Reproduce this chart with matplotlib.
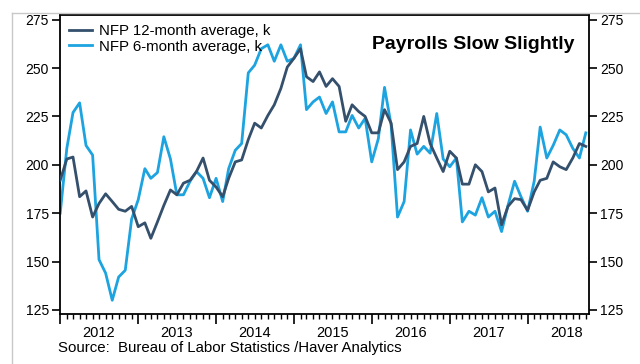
import matplotlib
matplotlib.use("Agg")
import matplotlib.pyplot as plt
import matplotlib.dates as mdates
from matplotlib.lines import Line2D
import pandas as pd

plt.rcParams['font.family'] = ['Liberation Sans', 'DejaVu Sans']

# monthly nonfarm payroll averages, thousands (Jan 2012 - Oct 2018)
months = pd.date_range('2012-01-01', periods=82, freq='MS')

avg_12m = [192, 203, 204, 183.5, 186.5, 173, 180, 185, 181, 177,
           176, 178.5, 168, 170, 162, 170.5, 179, 187, 184.5, 190.5,
           192, 196.5, 203.5, 192, 188.5, 183.5, 193, 201.5, 202.5, 213,
           221.5, 219, 225.5, 231, 239.5, 250.5, 255, 260, 245.5, 243,
           248, 240.5, 244.5, 240.5, 222.5, 231, 227.5, 225, 216.5, 216.5,
           228.5, 221.5, 197.5, 201.5, 209.5, 211, 225, 211, 203.5, 196.5,
           207, 203.5, 190, 190, 200, 196.5, 186, 188, 169, 178.5,
           182.5, 182, 176.5, 186, 192, 193, 201.5, 199, 197.5, 203.5,
           211, 209.5]

avg_6m = [175, 208.5, 227, 232, 210, 205, 151, 144, 130, 142,
          145.5, 172, 182, 198, 193, 196, 214.5, 203, 184.5, 184.5,
          191.5, 196.5, 193, 183, 193, 181, 198, 207.5, 211, 247.5,
          251.5, 260, 262, 253.5, 262, 253.5, 255, 262, 228.5, 232.5,
          235, 226.5, 232.5, 217, 217, 225.5, 219, 224, 201.5, 213.5,
          240, 220.5, 173, 181, 218, 205.5, 209.5, 206, 226.5, 203,
          199, 203.5, 170.5, 176, 174, 183, 173, 176, 165.5, 179,
          191.5, 183.5, 176, 191.5, 219.5, 203.5, 210, 218, 215.5, 208.5,
          203.5, 216.5]

years = [2012, 2013, 2014, 2015, 2016, 2017, 2018]
yticks = [125, 150, 175, 200, 225, 250, 275]

dark = '#34506c'
light = '#1ca3e0'

fig = plt.figure(figsize=(6.4, 3.64), dpi=100)
ax = fig.add_axes([60/640, 1 - 314/364, 529/640, 299/364])

ax.plot(months, avg_12m, color=dark, lw=2.0, label='NFP 12-month average, k', zorder=3)
ax.plot(months, avg_6m, color=light, lw=2.0, label='NFP 6-month average, k', zorder=2)

ax.set_ylim(122.9, 277.4)
ax.set_xlim(pd.Timestamp('2011-12-31'), pd.Timestamp('2018-10-16'))
ax.set_yticks(yticks)

ax.xaxis.set_major_locator(mdates.YearLocator())
ax.xaxis.set_minor_locator(mdates.MonthLocator())
ax.xaxis.set_major_formatter(plt.NullFormatter())

ax.tick_params(axis='y', length=6, width=1.2, direction='out', labelsize=10,
               right=True, labelright=True, pad=2)
ax.tick_params(axis='x', which='major', length=7, width=1.2, direction='out')
ax.tick_params(axis='x', which='minor', length=3.5, width=1.0, direction='out')
for s in ax.spines.values():
    s.set_linewidth(1.3)

# year names sit in the middle of each year
for y in years:
    ax.text(pd.Timestamp(f'{y}-07-01'), -0.062, str(y), transform=ax.get_xaxis_transform(),
            ha='center', va='center', fontsize=10.5)

ax.legend(loc='upper left', frameon=False, fontsize=10.8, handlelength=1.5,
          handletextpad=0.5, labelspacing=0.1, borderaxespad=0.2)

ax.text(0.9735, 0.90, 'Payrolls Slow Slightly', transform=ax.transAxes,
        ha='right', va='center', fontsize=14, fontweight='bold')

fig.text(58/640, 1 - 348/364, 'Source:  Bureau of Labor Statistics /Haver Analytics',
         fontsize=10.8, va='center')

# light outer frame of the chart panel
fig.add_artist(Line2D([12/640, 1], [1 - 13/364, 1 - 13/364], color='#c8c8c8', lw=1))
fig.add_artist(Line2D([12/640, 12/640], [0, 1 - 13/364], color='#c8c8c8', lw=1))

fig.savefig('out.png', dpi=100)
